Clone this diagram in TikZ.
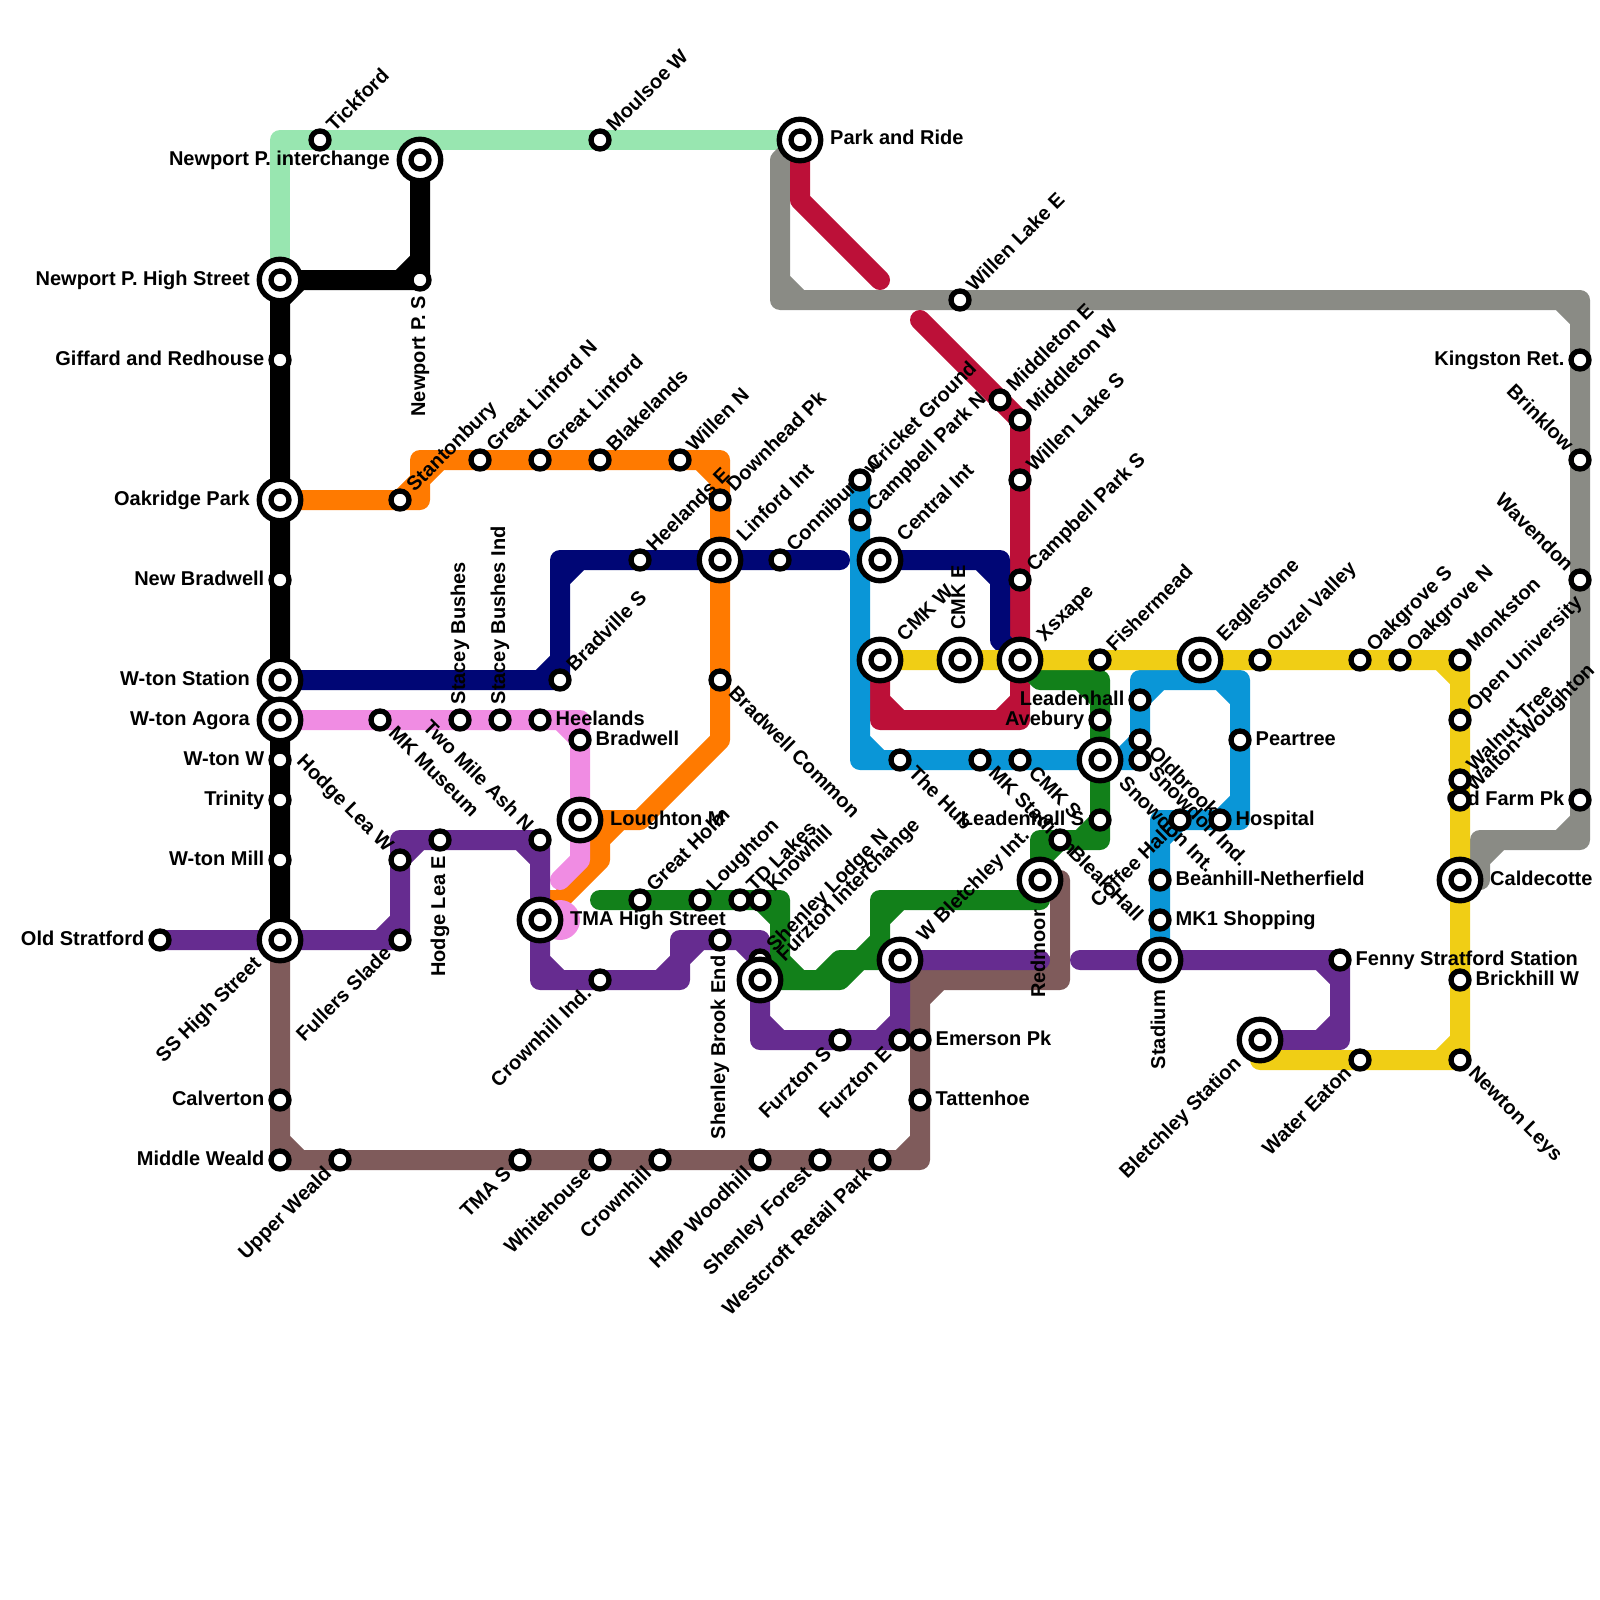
\documentclass[tikz,border=0pt]{standalone}
\usepackage{fontspec}
\setmainfont{Liberation Sans}
\definecolor{cLtGreen}{HTML}{98E6B0}
\definecolor{cOrange}{HTML}{FF7A00}
\definecolor{cNavy}{HTML}{000675}
\definecolor{cPink}{HTML}{F08CE3}
\definecolor{cPurple}{HTML}{662C90}
\definecolor{cBrown}{HTML}{7F5B5B}
\definecolor{cGreen}{HTML}{12801A}
\definecolor{cYellow}{HTML}{F0CE15}
\definecolor{cBlue}{HTML}{0A96D7}
\definecolor{cCrimson}{HTML}{BC1038}
\definecolor{cGray}{HTML}{8A8B85}
\pgfdeclarelayer{lines}
\pgfdeclarelayer{labels}
\pgfsetlayers{lines,labels,main}
\tikzset{
    route/.style={line width=20pt, line join=round, line cap=round},
    stop/.style={circle, draw=black, fill=white, line width=5.3pt, minimum size=18pt, inner sep=0pt},
    hub/.style={circle, draw=black, fill=white, line width=5.3pt, minimum size=41.5pt, inner sep=0pt},
    lbl/.style={font=\fontsize{20}{20}\selectfont\bfseries, inner sep=0pt, text=black},
    lE/.style={lbl, anchor=base west, xshift=\gap pt, yshift=-5pt},
    lW/.style={lbl, anchor=base east, xshift=-\gap pt, yshift=-5pt},
    lNE/.style={lbl, rotate=45, anchor=base west, xshift=\gap pt, yshift=-5pt},
    lSW/.style={lbl, rotate=45, anchor=base east, xshift=-\gap pt, yshift=-5pt},
    lSE/.style={lbl, rotate=-45, anchor=base west, xshift=\gap pt, yshift=-5pt},
    lNW/.style={lbl, rotate=-45, anchor=base east, xshift=-\gap pt, yshift=-5pt},
    lN/.style={lbl, rotate=90, anchor=base west, xshift=\gap pt, yshift=-5pt},
    lS/.style={lbl, rotate=90, anchor=base east, xshift=-\gap pt, yshift=-5pt}
}
\begin{document}
\begin{tikzpicture}[x=1pt, y=-1pt]
    \useasboundingbox (0,0) rectangle (1600,1600);

    % plain stops
    \def\gap{15.5}
    \foreach \nm/\px/\py/\dir/\txt in {
        giffard/280/360/lW/Giffard and Redhouse, newbradwell/280/580/lW/New Bradwell,
        wtonw/280/760/lW/W-ton W, trinity/280/800/lW/Trinity, wtonmill/280/860/lW/W-ton Mill,
        calverton/280/1100/lW/Calverton, middleweald/280/1160/lW/Middle Weald,
        upperweald/340/1160/lSW/Upper Weald, tmas/520/1160/lSW/TMA S, whitehouse/600/1160/lSW/Whitehouse,
        crownhill/660/1160/lSW/Crownhill, hmpwoodhill/760/1160/lSW/HMP Woodhill,
        shenleyforest/820/1160/lSW/Shenley Forest, westcroft/880/1160/lSW/Westcroft Retail Park,
        tattenhoe/920/1100/lE/Tattenhoe, emerson/920/1040/lE/Emerson Pk,
        tickford/320/140/lNE/Tickford, moulsoe/600/140/lNE/Moulsoe W, newportps/420/280/lS/Newport P. S,
        stantonbury/400/500/lNE/Stantonbury, linfordn/480/460/lNE/Great Linford N, linford/540/460/lNE/Great Linford,
        blakelands/600/460/lNE/Blakelands, willenn/680/460/lNE/Willen N, downhead/720/500/lNE/Downhead Pk,
        bradwellc/720/680/lSE/Bradwell Common, bradville/560/680/lNE/Bradville S, heelandse/640/560/lNE/Heelands E,
        conniburrow/780/560/lNE/Conniburrow, mkmuseum/380/720/lSE/MK Museum, staceyb/460/720/lN/Stacey Bushes,
        staceyi/500/720/lN/Stacey Bushes Ind, heelands/540/720/lE/Heelands, bradwell/580/740/lE/Bradwell,
        oldstratford/160/940/lW/Old Stratford, fullers/400/940/lSW/Fullers Slade, hodgew/400/860/lNW/Hodge Lea W,
        hodgee/440/840/lS/Hodge Lea E, twomile/540/840/lNW/Two Mile Ash N, crownhillind/600/980/lSW/Crownhill Ind.,
        brookend/720/940/lS/Shenley Brook End, lodgen/760/960/lNE/Shenley Lodge N, furztons/840/1040/lSW/Furzton S,
        furztone/900/1040/lSW/Furzton E, greatholm/640/900/lNE/Great Holm, loughton/700/900/lNE/Loughton,
        tdlakes/740/900/lNE/TD Lakes, knowhill/760/900/lNE/Knowhill, fenny/1340/960/lE/Fenny Stratford Station,
        willenlakee/960/300/lNE/Willen Lake E, kingston/1580/360/lW/Kingston Ret., brinklow/1580/460/lNW/Brinklow,
        wavendon/1580/580/lNW/Wavendon, oldfarm/1580/800/lW/Old Farm Pk, middletone/1000/400/lNE/Middleton E,
        middletonw/1020/420/lNE/Middleton W, willenlakes/1020/480/lNE/Willen Lake S, campbells/1020/580/lNE/Campbell Park S,
        fishermead/1100/660/lNE/Fishermead, ouzel/1260/660/lNE/Ouzel Valley, oakgroves/1360/660/lNE/Oakgrove S,
        oakgroven/1400/660/lNE/Oakgrove N, monkston/1460/660/lNE/Monkston, openuni/1460/720/lNE/Open University,
        walnut/1460/780/lNE/Walnut Tree, walton/1460/800/lNE/Walton-Woughton, brickhill/1460/980/lE/Brickhill W,
        newton/1460/1060/lSE/Newton Leys, watereaton/1360/1060/lSW/Water Eaton, cricket/860/480/lNE/Cricket Ground,
        campbelln/860/520/lNE/Campbell Park N, thehub/900/760/lSE/The Hub, mkstadium/980/760/lSE/MK Stadium,
        cmks/1020/760/lSE/CMK S, snowdonind/1140/760/lSE/Snowdon Ind., oldbrook/1140/740/lSE/Oldbrook,
        leadenhall/1140/700/lW/Leadenhall, avebury/1100/720/lW/Avebury, leadenhalls/1100/820/lW/Leadenhall S,
        bleakhall/1060/840/lSE/Bleak Hall, coffeehall/1180/820/lSW/Coffee Hall, hospital/1220/820/lE/Hospital,
        peartree/1240/740/lE/Peartree, beanhill/1160/880/lE/Beanhill-Netherfield, mkone/1160/920/lE/MK1 Shopping%
    }{
        \node[stop] (\nm) at (\px,\py) {};
        \begin{pgfonlayer}{labels}
            \node[\dir] (\nm-t) at (\px,\py) {\txt};
        \end{pgfonlayer}
    }

    % interchanges
    \def\gap{30}
    \foreach \nm/\px/\py/\dir/\txt in {
        parkride/800/140/lE/Park and Ride, newportint/420/160/lW/Newport P. interchange,
        highstreet/280/280/lW/Newport P. High Street, oakridge/280/500/lW/Oakridge Park,
        wtonstation/280/680/lW/W-ton Station, wtonagora/280/720/lW/W-ton Agora, sshigh/280/940/lSW/SS High Street,
        linfordint/720/560/lNE/Linford Int, centralint/880/560/lNE/Central Int, loughtonm/580/820/lE/Loughton M,
        tmahigh/540/920/lE/TMA High Street, furztonint/760/980/lNE/Furzton Interchange, wbletchley/900/960/lNE/W Bletchley Int.,
        redmoor/1040/880/lS/Redmoor, stadium/1160/960/lS/Stadium, bletchley/1260/1040/lSW/Bletchley Station,
        cmkw/880/660/lNE/CMK W, cmke/960/660/lN/CMK E, xsxape/1020/660/lNE/Xsxape, eaglestone/1200/660/lNE/Eaglestone,
        snowdonint/1100/760/lSE/Snowdon Int., caldecotte/1460/880/lE/Caldecotte%
    }{
        \node[hub] (\nm) at (\px,\py) {};
        \node[stop] (\nm-in) at (\px,\py) {};
        \begin{pgfonlayer}{labels}
            \node[\dir] (\nm-t) at (\px,\py) {\txt};
        \end{pgfonlayer}
    }

    \begin{pgfonlayer}{lines}
        \draw[route, cLtGreen] (highstreet.center) -- (280,140) -- (parkride.center);
        \draw[route, cGray] (parkride.center) -- (780,160) -- (780,300) -- (1580,300) -- (1580,840) -- (1480,840) -- (1480,880) -- (caldecotte.center)
            (780,280) -- (800,300) (1560,300) -- (1580,320) (1580,820) -- (1560,840) (1500,840) -- (1480,860);
        \draw[route, cBrown] (sshigh.center) -- (middleweald.center) -- (920,1160) -- (920,980) -- (1060,980) -- (1060,880) -- (redmoor.center)
            (280,1140) -- (300,1160) (900,1160) -- (920,1140) (920,1000) -- (940,980) (1040,980) -- (1060,960);
        \draw[route, cCrimson] (parkride.center) -- (800,200) -- (880,280);
        \draw[route, cCrimson] (920,320) -- (middletonw.center) -- (xsxape.center) -- (1020,720) -- (880,720) -- (cmkw.center)
            (1020,700) -- (1000,720) (880,700) -- (900,720);
        \draw[route, cOrange] (oakridge.center) -- (420,500) -- (420,460) -- (720,460) -- (720,740) -- (640,820) -- (loughtonm.center)
            (400,500) -- (420,480) (420,480) -- (440,460) (700,460) -- (720,480)
            (620,820) -- (600,840) (600,820) -- (600,860) -- (560,900) -- (540,900);
        \draw[route, cPink] (wtonagora.center) -- (580,720) -- (580,860) -- (560,880) (560,720) -- (580,740);
        \fill[cPink] (560,920) circle (20);
        \draw[route, cPurple] (oldstratford.center) -- (400,940) -- (400,840) -- (540,840) -- (540,980) -- (680,980) -- (680,940) -- (760,940) -- (760,1040) -- (900,1040) -- (wbletchley.center) -- (1040,960)
            (380,940) -- (400,920) (400,860) -- (420,840) (520,840) -- (540,860) (540,960) -- (560,980)
            (660,980) -- (680,960) -- (700,940) (740,940) -- (760,960) (760,1020) -- (780,1040) (880,1040) -- (900,1020);
        \draw[route, cPurple] (1080,960) -- (fenny.center) -- (1340,1040) -- (bletchley.center)
            (1320,960) -- (1340,980) (1340,1020) -- (1320,1040);
        \draw[route, cNavy] (wtonstation.center) -- (560,680) -- (560,560) -- (840,560)
            (540,680) -- (560,660) (560,580) -- (580,560);
        \draw[route, cNavy] (centralint.center) -- (1000,560) -- (1000,640) -- (xsxape.center) (980,560) -- (1000,580);
        \draw[route, cBlue] (cricket.center) -- (860,760) -- (snowdonind.center) (860,740) -- (880,760);
        \draw[route, cBlue] (1120,760) -- (1140,740) -- (1140,680) -- (1240,680) -- (1240,820) -- (1160,820) -- (stadium.center)
            (1140,700) -- (1160,680) (1220,680) -- (1240,700) (1240,800) -- (1220,820) (1180,820) -- (1160,840);
        \draw[route, cGreen] (redmoor.center) -- (1040,900) -- (880,900) -- (880,940) -- (860,960) -- (840,960) -- (820,980) -- (800,980) -- (780,960) -- (780,900) -- (600,900)
            (880,920) -- (900,900) (760,900) -- (780,920);
        \draw[route, cGreen] (furztonint.center) -- (840,980) -- (860,960) -- (wbletchley.center);
        \draw[route, cGreen] (xsxape.center) -- (1040,680) -- (1100,680) -- (1100,840) -- (1040,840) -- (redmoor.center)
            (1080,680) -- (1100,700) (1100,820) -- (1080,840) (1060,840) -- (1040,860);
        \draw[route, cYellow] (cmkw.center) -- (monkston.center) -- (newton.center) -- (1260,1060) -- (bletchley.center)
            (1440,660) -- (1460,680) (1460,1040) -- (1440,1060);
        \draw[route, black] (newportint.center) -- (newportps.center) -- (highstreet.center) -- (sshigh.center)
            (420,260) -- (400,280) (300,280) -- (280,300);
    \end{pgfonlayer}
\end{tikzpicture}
\end{document}
